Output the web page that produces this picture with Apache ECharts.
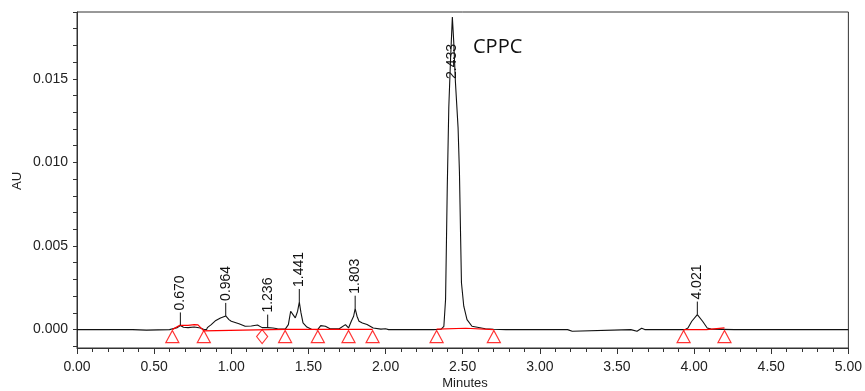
<!DOCTYPE html>
<html>
<head>
<meta charset="utf-8">
<script src="https://cdn.jsdelivr.net/npm/echarts@6/dist/echarts.min.js"></script>
<style>
  html, body { margin: 0; padding: 0; background: #fff; }
  #chart { width: 865px; height: 391px; }
</style>
</head>
<body>
<div id="chart"></div>
<script>
// chromatogram trace (minutes, AU)
const traceMinutes = [
  0.00, 0.07, 0.08, 0.09, 0.36, 0.37, 0.45, 0.46, 0.60, 0.62, 0.65, 0.670, 0.69, 0.72, 0.76, 0.80, 0.82, 0.84,
  0.845, 0.852, 0.87, 0.90, 0.93, 0.964, 0.985, 1.00, 1.05, 1.09, 1.13, 1.17, 1.20, 1.236, 1.27, 1.30, 1.35,
  1.37, 1.385, 1.40, 1.415, 1.43, 1.441, 1.452, 1.465, 1.49, 1.52, 1.56, 1.58, 1.61, 1.64, 1.70, 1.74, 1.76,
  1.778, 1.793, 1.803, 1.815, 1.828, 1.85, 1.88, 1.92, 1.97, 2.00, 2.02, 2.29, 2.30, 2.31, 2.359, 2.378, 2.389,
  2.395, 2.400, 2.410, 2.421, 2.433, 2.442, 2.453, 2.470, 2.479, 2.486, 2.492, 2.507, 2.528, 2.560, 2.647, 2.70,
  2.78, 2.79, 2.80, 3.00, 3.005, 3.015, 3.18, 3.19, 3.21, 3.22, 3.59, 3.60, 3.63, 3.64, 3.66, 3.68, 3.81, 3.82,
  3.84, 3.94, 3.96, 3.985, 4.021, 4.055, 4.085, 4.11, 4.26, 4.27, 4.28, 5.00
]
const traceAU = [
  0, 0, 0.00004, 0, 0, -0.00003, -0.00003, 0, 0, 0.00005, 0.00012, 0.00025, 0.00014, 0.00012, 0.00016, 0.0001, 0.00002, 0,
  0.00012, 0.00004, 0.0003, 0.00055, 0.0007, 0.00082, 0.0006, 0.0005, 0.00035, 0.0002, 0.00022, 0.00028, 0.00012, 0.00012, 0.0001, 0.00005, 0.00003,
  0.0003, 0.0011, 0.0009, 0.0007, 0.0011, 0.00165, 0.001, 0.0004, 0.00015, 0.00002, 0, 0.00024, 0.0002, 0.00005, 0.00005, 0.0003, 0.0001,
  0.0005, 0.0008, 0.00125, 0.0008, 0.0005, 0.0004, 0.0003, 0.0001, 0.00003, 0.00005, 0, 0, 0.00006, 0, 0.00002, 0.0002, 0.0018,
  0.0054, 0.0085, 0.0133, 0.0161, 0.0187, 0.0172, 0.0148, 0.0121, 0.0094, 0.0058, 0.0028, 0.0014, 0.0006, 0.0002, 0.00005, 0.00002,
  0, 0.0001, 0, 0, 0.0001, 0, 0, -0.0001, -0.0001, 0, 0, -0.0001, -0.0001, 0, 0.00008, 0, 0, 0.00005,
  0, 0, 0.0001, 0.0005, 0.0009, 0.0005, 0.0001, 0.00003, 0, 0.00006, 0, 0
]

// integrated peaks
const peakMinutes = [0.670, 0.964, 1.236, 1.441, 1.803, 2.433, 4.021]
const peakAU = [0.00025, 0.00082, 0.00012, 0.00165, 0.00125, 0.0187, 0.0009]
const peakLabels = ['0.670', '0.964', '1.236', '1.441', '1.803', '2.433', '4.021']

// baseline (red), null = gap
const baselineMinutes = [0.618, 0.666, 0.72, 0.76, 0.784, 0.822, 1.16, 1.349, 1.561, 1.760, 1.916, null,
  2.331, 2.52, 2.52, 2.702, null, 3.932, 4.08, 4.08, 4.197]
const baselineAU = [0, 0.00026, 0.00025, 0.0003, 0.00028, -0.00008, -0.00002, 0.00002, 0.00002, 0.00002, 0.00002, null,
  0.00003, 0.00008, 0, 0, null, 0, 0, 0.0001, 0.0001]

// baseline start / end markers
const triangleMinutes = [0.618, 0.822, 1.349, 1.561, 1.760, 1.916, 2.331, 2.702, 3.932, 4.197]
const diamondMinutes = [1.200]

// axes
const yLabelValues = [0, 0.005, 0.010, 0.015]
const yMin = -0.0011
const yMax = 0.019
const xName = 'Minutes'
const yName = 'AU'
const compoundName = 'CPPC'

const font = 'Liberation Sans'
const yTickValues = []
for (let k = -1; k <= 19; k++) yTickValues.push(k / 1000)

const trace = traceMinutes.map((t, i) => [t, traceAU[i]])
const baseline = baselineMinutes.map((t, i) => (t === null ? ['-', '-'] : [t, baselineAU[i]]))

const chart = echarts.init(document.getElementById('chart'))

chart.setOption({
  animation: false,
  grid: {
    left: 77,
    right: 12,
    top: 12,
    bottom: 43,
    show: true,
    borderColor: '#333',
    borderWidth: 1,
  },
  xAxis: {
    type: 'value',
    min: 0,
    max: 5,
    interval: 0.5,
    axisLine: { onZero: false, lineStyle: { color: '#333', width: 1 } },
    axisTick: { length: 6, lineStyle: { color: '#333' } },
    minorTick: { show: true, splitNumber: 5, length: 4, lineStyle: { color: '#333' } },
    splitLine: { show: false },
    axisLabel: {
      fontFamily: font,
      fontSize: 14,
      color: '#222',
      margin: 12,
      formatter: (v) => v.toFixed(2),
    },
  },
  yAxis: {
    type: 'value',
    min: yMin,
    max: yMax,
    axisLine: { show: true, onZero: false, lineStyle: { color: '#333', width: 1 } },
    axisTick: { show: true, length: 4, customValues: yTickValues, lineStyle: { color: '#333' } },
    splitLine: { show: false },
    axisLabel: {
      fontFamily: font,
      fontSize: 14,
      color: '#222',
      margin: 9,
      customValues: yLabelValues,
      formatter: (v) => v.toFixed(3),
    },
  },
  graphic: [
    {
      type: 'text',
      x: 465,
      y: 383,
      style: { text: xName, font: '13px "Liberation Sans"', fill: '#222', align: 'center', verticalAlign: 'middle' },
    },
    {
      type: 'text',
      x: 17,
      y: 181,
      rotation: Math.PI / 2,
      style: { text: yName, font: '13px "Liberation Sans"', fill: '#222', align: 'center', verticalAlign: 'middle' },
    },
    {
      type: 'text',
      left: 473,
      top: 37,
      style: { text: compoundName, font: '20px "Open Sans"', fill: '#111' },
    },
  ],
  series: [
    {
      name: 'trace',
      type: 'line',
      data: trace,
      showSymbol: false,
      lineStyle: { color: '#111', width: 1.1 },
      z: 2,
    },
    {
      name: 'baseline',
      type: 'line',
      data: baseline,
      showSymbol: false,
      connectNulls: false,
      lineStyle: { color: '#ff0000', width: 1.2 },
      z: 3,
    },
    {
      name: 'start/end',
      type: 'scatter',
      data: triangleMinutes.map((t) => [t, 0]),
      symbol: 'triangle',
      symbolSize: [13, 12],
      symbolOffset: [0, 7],
      itemStyle: { color: 'rgba(255,255,255,0)', borderColor: '#ff0000', borderWidth: 1.2 },
      z: 4,
    },
    {
      name: 'drop',
      type: 'scatter',
      data: diamondMinutes.map((t) => [t, 0]),
      symbol: 'diamond',
      symbolSize: [11, 14],
      symbolOffset: [0, 7],
      itemStyle: { color: 'rgba(255,255,255,0)', borderColor: '#ff0000', borderWidth: 1.2 },
      z: 4,
    },
    {
      name: 'peaks',
      type: 'custom',
      data: peakMinutes.map((t, i) => [t, peakAU[i]]),
      z: 5,
      renderItem: (params, api) => {
        const p = api.coord([api.value(0), api.value(1)])
        const label = peakLabels[params.dataIndex]
        const textLen = 39
        const top = params.coordSys.y
        let tickEnd = p[1] - 13
        let anchor = tickEnd - 2
        if (anchor - textLen < top) {
          // no room above the apex: put the label inside the peak
          anchor = top + 28 + textLen
          tickEnd = p[1]
        }
        return {
          type: 'group',
          children: [
            {
              type: 'line',
              shape: { x1: p[0], y1: p[1], x2: p[0], y2: tickEnd },
              style: { stroke: '#111', lineWidth: 1 },
            },
            {
              type: 'text',
              x: p[0],
              y: anchor,
              rotation: Math.PI / 2,
              style: {
                text: label,
                font: '14px "Liberation Sans"',
                fill: '#111',
                align: 'left',
                verticalAlign: 'middle',
              },
            },
          ],
        }
      },
    },
  ],
})
</script>
</body>
</html>
